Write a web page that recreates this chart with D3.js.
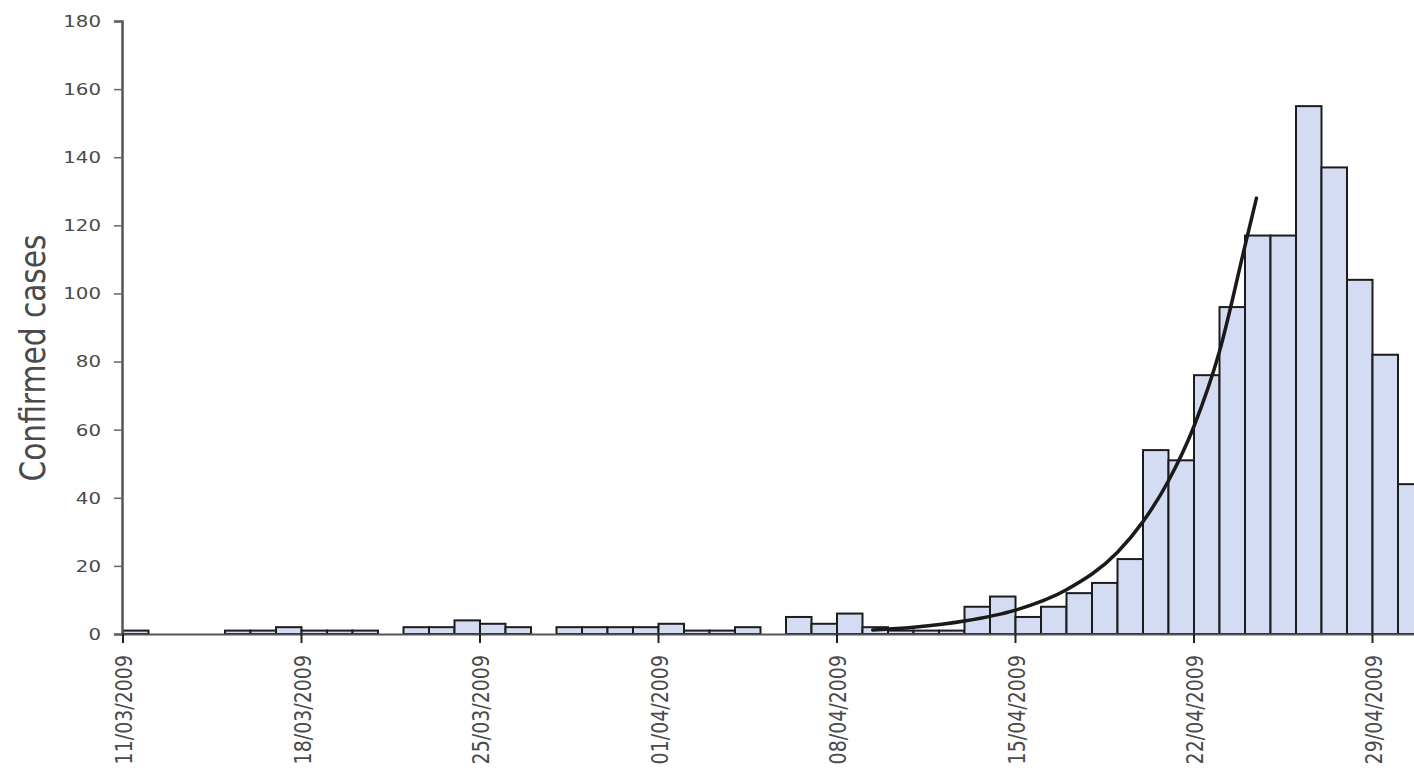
<!DOCTYPE html>
<html>
<head>
<meta charset="utf-8">
<script src="https://cdn.jsdelivr.net/npm/d3@7"></script>
<style>
  html, body { margin: 0; padding: 0; background: #fff; }
  svg { display: block; }
  text { font-family: "DejaVu Sans", Verdana, sans-serif; fill: #4a4a4a; }
</style>
</head>
<body>
<svg id="chart" width="1414" height="770"></svg>
<script>
// ---- data ----
const startDate = new Date(2009, 2, 11);   // 11/03/2009
const endDate = new Date(2009, 4, 1);      // exclusive: up to 30/04/2009
const dates = d3.timeDay.range(startDate, endDate);
const cases = [
  1, 0, 0, 0, 1, 1, 2, 1, 1, 1,
  0, 2, 2, 4, 3, 2, 0, 2, 2, 2,
  2, 3, 1, 1, 2, 0, 5, 3, 6, 2,
  1, 1, 1, 8, 11, 5, 8, 12, 15, 22,
  54, 51, 76, 96, 117, 117, 155, 137, 104, 82,
  44
];
const tickLabels = ["11/03/2009","18/03/2009","25/03/2009","01/04/2009","08/04/2009","15/04/2009","22/04/2009","29/04/2009"];
const yTicks = [0, 20, 40, 60, 80, 100, 120, 140, 160, 180];
// exponential fit curve: [day position from 11/03, cases]
const fitDay = [29.4, 31, 33, 35, 37, 39, 40, 41, 42, 43, 44, 44.45];
const fitVal = [1.2, 2.0, 3.8, 7.0, 13, 24, 33, 45, 61, 83, 114, 128];
const yTitle = "Confirmed cases";

// ---- layout ----
const svg = d3.select("#chart");
const fmt = d3.timeFormat("%d/%m/%Y");
const x0 = 123, dayW = 25.5;
const x = d3.scaleBand()
  .domain(dates.map(fmt))
  .range([x0, x0 + dates.length * dayW])
  .paddingInner(0).paddingOuter(0);
const xd = d3.scaleLinear().domain([0, dates.length]).range([x0, x0 + dates.length * dayW]);
const y = d3.scaleLinear().domain([0, 180]).range([634, 21]);

// bars
svg.append("g").selectAll("rect")
  .data(dates.map((d, i) => ({ key: fmt(d), v: cases[i] })))
  .join("rect")
  .attr("x", d => x(d.key))
  .attr("y", d => y(d.v))
  .attr("width", x.bandwidth())
  .attr("height", d => y(0) - y(d.v))
  .attr("fill", "#d3dcf2")
  .attr("stroke", "#1c1c1c")
  .attr("stroke-width", 2);

// fit curve
const line = d3.line()
  .x(d => xd(d[0]))
  .y(d => y(d[1]))
  .curve(d3.curveMonotoneX);
svg.append("path")
  .datum(fitDay.map((d, i) => [d, fitVal[i]]))
  .attr("d", line)
  .attr("fill", "none")
  .attr("stroke", "#1a1a1a")
  .attr("stroke-width", 3.5)
  .attr("stroke-linecap", "round");

// y axis
const yAxis = svg.append("g").attr("transform", "translate(122,0)")
  .call(d3.axisLeft(y).tickValues(yTicks).tickSize(8).tickFormat(""));
yAxis.select(".domain").attr("stroke", "#555").attr("stroke-width", 2.5);
yAxis.selectAll(".tick line").attr("stroke", "#666").attr("stroke-width", 1.5);
svg.append("g").selectAll("text")
  .data(yTicks)
  .join("text")
  .attr("transform", d => `translate(101,${y(d)}) scale(1.2,1)`)
  .attr("dy", "0.36em")
  .attr("text-anchor", "end")
  .style("font-size", "16.5px")
  .text(d => d);

// x axis
const tickDates = tickLabels;
const xAxis = svg.append("g").attr("transform", `translate(0,${y(0)})`)
  .call(d3.axisBottom(x).tickValues(tickDates).tickSize(9).tickSizeOuter(0).tickFormat(""));
xAxis.select(".domain").attr("stroke", "#555").attr("stroke-width", 2);
xAxis.selectAll(".tick").attr("transform", d => `translate(${x(d)},0)`);
xAxis.selectAll(".tick line").attr("stroke", "#222").attr("stroke-width", 2);
svg.append("g").selectAll("text")
  .data(tickDates)
  .join("text")
  .attr("transform", d => `translate(${x(d) + 9},655) scale(1.2,1) rotate(-90)`)
  .attr("text-anchor", "end")
  .style("font-size", "19px")
  .text(d => d);

// y title
svg.append("text")
  .attr("transform", "translate(45,358) scale(1.2,1) rotate(-90)")
  .attr("text-anchor", "middle")
  .attr("textLength", 247)
  .attr("lengthAdjust", "spacingAndGlyphs")
  .style("font-size", "30px")
  .text(yTitle);
</script>
</body>
</html>
